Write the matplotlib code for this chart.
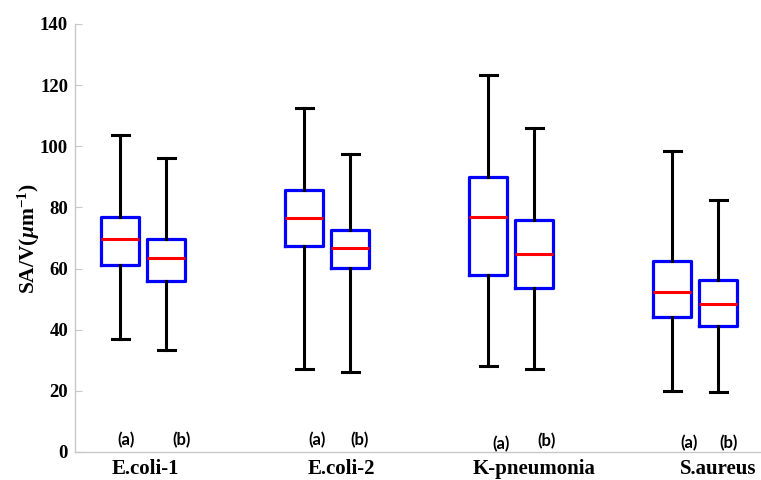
import matplotlib.pyplot as plt

plt.rcParams['font.family'] = ['Liberation Serif', 'DejaVu Serif']
plt.rcParams['mathtext.fontset'] = 'custom'
plt.rcParams['mathtext.rm'] = 'Liberation Serif:bold'
plt.rcParams['mathtext.it'] = 'Liberation Serif:italic:bold'
plt.rcParams['mathtext.bf'] = 'Liberation Serif:bold'

# datos de las cajas (a) y (b) para cada bacteria
especies = ["E.coli-1", "E.coli-2", "K-pneumonia", "S.aureus"]
muestras = ["(a)", "(b)", "(a)", "(b)", "(a)", "(b)", "(a)", "(b)"]
whis_bajo = [37.1, 33.3, 27.3, 26.2, 28.1, 27.3, 19.9, 19.6]
q1 = [61.1, 55.9, 67.4, 60.1, 57.8, 53.5, 44.2, 41.2]
mediana = [69.7, 63.3, 76.7, 66.6, 76.9, 64.9, 52.5, 48.4]
q3 = [77.0, 69.7, 85.7, 72.6, 89.8, 75.9, 62.5, 56.1]
whis_alto = [103.8, 96.3, 112.5, 97.5, 123.4, 106.0, 98.3, 82.4]

# posiciones en el eje x
pos_cajas = [1, 2, 5, 6, 9, 10, 13, 14]
pos_especies = [1.55, 5.8, 10.0, 14.0]
pos_letras = [1.13, 2.33, 5.28, 6.2, 9.28, 10.26, 13.37, 14.22]
y_letras = [3.8, 3.8, 3.8, 3.8, 2.6, 3.4, 2.9, 2.9]

stats = []
for i in range(len(q1)):
    stats.append({"whislo": whis_bajo[i], "q1": q1[i], "med": mediana[i],
                  "q3": q3[i], "whishi": whis_alto[i], "fliers": []})

fig = plt.figure(figsize=(7.61, 4.8), dpi=100)
ax = fig.add_axes([75 / 761, 28 / 480, 1 - 75 / 761, 428 / 480])

ax.bxp(stats, positions=pos_cajas, widths=0.83, capwidths=0.37,
       showfliers=False, manage_ticks=False,
       boxprops=dict(color="#0000ff", linewidth=2.3),
       whiskerprops=dict(color="black", linewidth=2.2),
       capprops=dict(color="black", linewidth=2.2),
       medianprops=dict(color="#ff0000", linewidth=2.2))

for x, y, t in zip(pos_letras, y_letras, muestras):
    ax.text(x, y, t, ha="center", va="center", fontsize=12,
            fontweight="bold", family=["Lato", "DejaVu Sans"])

ax.set_xlim(0.02, 14.93)
ax.set_ylim(0, 140)
ax.set_yticks(range(0, 141, 20))
ax.set_xticks(pos_especies)
ax.set_xticklabels(especies, fontsize=15, fontweight="bold")
ax.tick_params(axis="x", length=0, pad=5)
ax.tick_params(axis="y", direction="in", length=5, color="#c8c8c8",
               labelsize=13.5, pad=5)
for lab in ax.get_yticklabels():
    lab.set_fontweight("bold")

ax.set_ylabel(r"SA/V($\mathit{\mu}$m$^{\mathbf{-1}}$)", fontsize=15.5,
              fontweight="bold")
ax.yaxis.set_label_coords(-0.048, 0.5)

for lado in ["top", "right"]:
    ax.spines[lado].set_visible(False)
for lado in ["left", "bottom"]:
    ax.spines[lado].set_color("#c8c8c8")
    ax.spines[lado].set_linewidth(1)

fig.savefig("out.png", dpi=100)
